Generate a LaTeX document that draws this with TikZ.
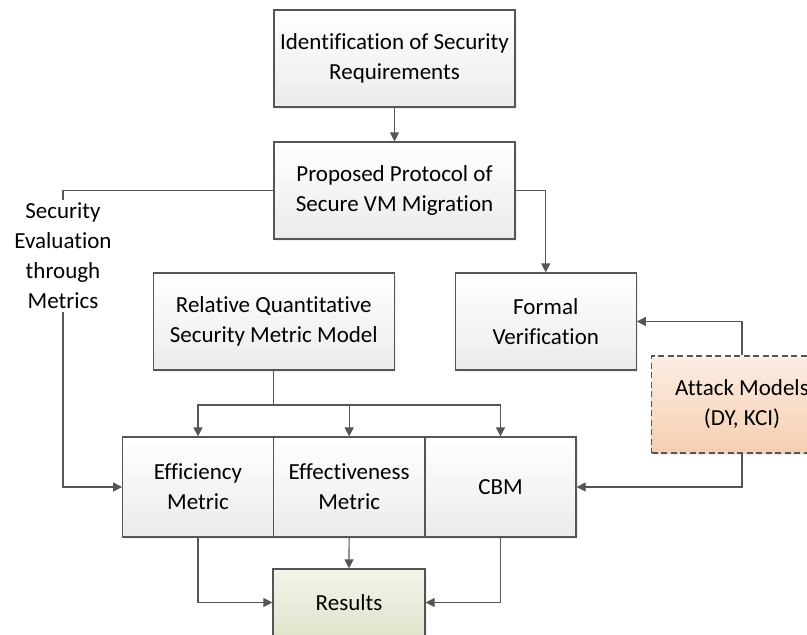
\documentclass[tikz,border=0pt]{standalone}
\usepackage{fontspec}
\setmainfont[Ligatures=NoCommon]{Carlito}
\usetikzlibrary{arrows.meta,shadows}
\definecolor{edgegray}{HTML}{555555}
\definecolor{boxgray}{HTML}{EBEBEB}
\definecolor{resgreen}{HTML}{DEE5CC}
\definecolor{atkpeach}{HTML}{F6CEB1}
\begin{document}
\begin{tikzpicture}[x=1pt,y=-1pt,
  font=\fontsize{23}{30}\selectfont,
  box/.style={draw=edgegray,line width=1.2pt,top color=white,bottom color=boxgray,
    align=center,inner sep=2pt,minimum height=97pt,
    drop shadow={opacity=0.12,shadow xshift=1.5pt,shadow yshift=-1.5pt}},
  arr/.style={draw=edgegray,line width=1.2pt,-{Triangle[length=9pt,width=9pt]}},
  line/.style={draw=edgegray,line width=1.2pt}]
\clip (0,0) rectangle (807,635);

\node[box,minimum width=241pt] (req) at (394.5,58.5) {Identification of Security\\Requirements};
\node[box,minimum width=241pt] (prot) at (394.5,190.5) {Proposed Protocol of\\Secure VM Migration};
\node[box,minimum width=241pt] (rqsm) at (273.75,321.5) {Relative Quantitative\\Security Metric Model};
\node[box,minimum width=181pt] (fv) at (545.75,321.5) {Formal\\Verification};
\node[box,minimum width=181pt,dash pattern=on 6pt off 3.5pt,top color=atkpeach!35,bottom color=atkpeach] (atk) at (742,404.5) {Attack Models\\(DY, KCI)};

\node[box,minimum width=150.6pt,minimum height=100pt] (eff) at (198,487) {Efficiency\\Metric};
\node[box,minimum width=151.7pt,minimum height=100pt] (effv) at (349.15,487) {Effectiveness\\Metric};
\node[box,minimum width=151pt,minimum height=100pt] (cbm) at (500.5,487) {CBM};
\node[box,minimum width=152pt,minimum height=67pt,top color=resgreen!40,bottom color=resgreen] (res) at (349,602.5) {Results};

\node[align=center,inner sep=3pt] (sec) at (63,256) {Security\\Evaluation\\through\\Metrics};

\draw[arr] (req) -- (prot);
\draw[arr] (prot.east) -| (fv.north);
\draw[line] (prot.west) -| (sec.north);
\draw[arr] (sec.south) |- (eff.west);

\coordinate (dist) at (273.75,405);
\draw[line] (rqsm.south) -- (dist);
\draw[arr] (dist) -| (eff.north);
\draw[arr] (dist) -| (effv.north);
\draw[arr] (dist) -| (cbm.north);

\draw[arr] (atk.north) |- (fv.east);
\draw[arr] (atk.south) |- (cbm.east);

\draw[arr] (eff.south) |- (res.west);
\draw[arr] (effv.south) -- (res.north);
\draw[arr] (cbm.south) |- (res.east);
\end{tikzpicture}
\end{document}
